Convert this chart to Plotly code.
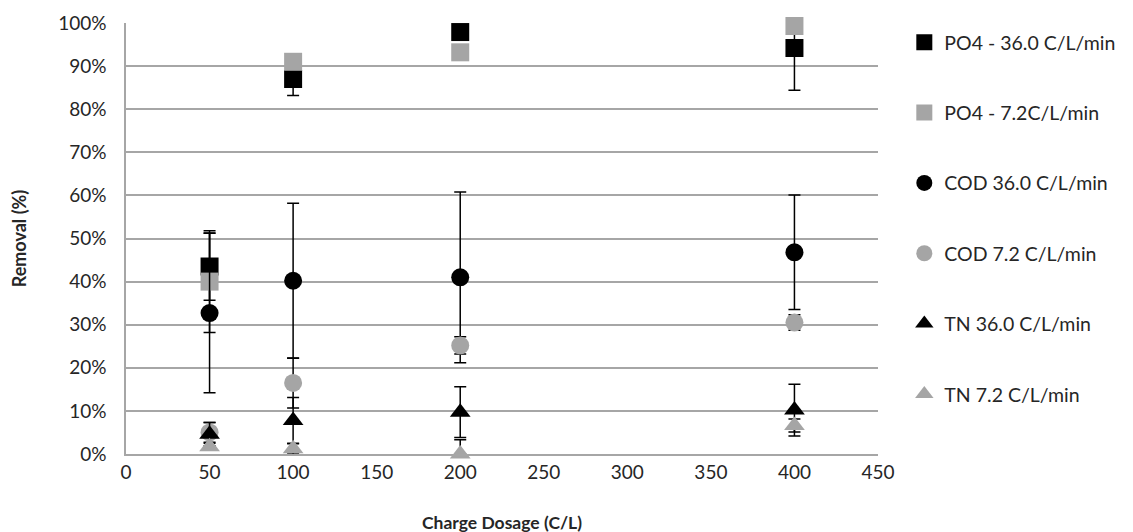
import plotly.graph_objects as go

dosage = [50, 100, 200, 400]

po4_36 = [43.5, 87.0, 97.9, 94.2]
po4_36_err_plus = [7.8, 3.8, 0.0, 5.8]
po4_36_err_minus = [7.8, 3.8, 0.0, 9.8]

po4_72 = [40.0, 91.0, 93.2, 99.3]
po4_72_err_plus = [11.8, 1.0, 1.0, 0.5]
po4_72_err_minus = [11.8, 1.0, 1.0, 0.5]

cod_36 = [32.7, 40.2, 41.0, 46.8]
cod_36_err = [18.5, 18.0, 19.8, 13.3]

cod_72 = [5.0, 16.5, 25.2, 30.5]
cod_72_err = [2.3, 5.8, 2.0, 1.8]

tn_36 = [4.6, 7.8, 9.7, 10.2]
tn_36_err = [2.7, 5.3, 5.9, 6.0]

tn_72 = [1.7, 1.2, 0.0, 6.6]
tn_72_err_plus = [0.8, 1.2, 3.3, 1.5]
tn_72_err_minus = [0.8, 1.2, 0.0, 1.5]

x_ticks = [0, 50, 100, 150, 200, 250, 300, 350, 400, 450]
y_ticks = [0, 10, 20, 30, 40, 50, 60, 70, 80, 90, 100]
y_tick_labels = ["0%", "10%", "20%", "30%", "40%", "50%", "60%", "70%", "80%", "90%", "100%"]

names = ["PO4 - 36.0 C/L/min", "PO4 - 7.2C/L/min", "COD 36.0 C/L/min",
         "COD 7.2 C/L/min", "TN 36.0 C/L/min", "TN 7.2 C/L/min"]

BLACK = "#000000"
GRAY = "#a5a5a5"

series = [
    (names[0], po4_36, po4_36_err_plus, po4_36_err_minus, "square", BLACK),
    (names[1], po4_72, po4_72_err_plus, po4_72_err_minus, "square", GRAY),
    (names[2], cod_36, cod_36_err, cod_36_err, "circle", BLACK),
    (names[3], cod_72, cod_72_err, cod_72_err, "circle", GRAY),
    (names[4], tn_36, tn_36_err, tn_36_err, "triangle-up", BLACK),
    (names[5], tn_72, tn_72_err_plus, tn_72_err_minus, "triangle-up", GRAY),
]

fig = go.Figure()
for i, (nm, ys, ep, em, sym, col) in enumerate(series):
    fig.add_trace(go.Scatter(
        x=dosage, y=ys, name=nm, mode="markers",
        legendgroup=f"g{i}",
        cliponaxis=False,
        marker=dict(symbol=sym, size=18, color=col, line=dict(width=0)),
        error_y=dict(type="data", symmetric=False, array=ep, arrayminus=em,
                     color="#000000", thickness=1.5, width=6),
    ))

FONT = "Lato, 'Open Sans', sans-serif"

fig.update_layout(
    width=1133, height=532,
    margin=dict(l=118, r=263, t=15, b=86),
    paper_bgcolor="white", plot_bgcolor="white",
    font=dict(family=FONT, size=18, color="#262626"),
    showlegend=True,
    legend=dict(
        x=1.035, xanchor="left", y=1.0, yanchor="top",
        font=dict(size=19.5, family=FONT, color="#262626"),
        tracegroupgap=42, itemsizing="trace", itemwidth=30,
        bgcolor="rgba(0,0,0,0)",
    ),
    xaxis=dict(
        range=[0, 450], tickmode="array", tickvals=x_ticks,
        showgrid=False, zeroline=False, automargin=False,
        showline=True, linecolor="#a6a6a6", linewidth=1.5,
        ticks="", tickfont=dict(size=19),
        title=dict(text="<b>Charge Dosage (C/L)</b>", font=dict(size=17.5), standoff=35),
    ),
    yaxis=dict(
        range=[0, 100], tickmode="array", tickvals=y_ticks, ticktext=y_tick_labels,
        showgrid=True, gridcolor="#a6a6a6", gridwidth=1.5,
        zeroline=False, automargin=False,
        showline=True, linecolor="#a6a6a6", linewidth=1.5,
        ticks="", tickfont=dict(size=19), ticklabelstandoff=14,
        title=dict(text="<b>Removal (%)</b>", font=dict(size=18), standoff=30),
    ),
)

fig.write_html("out.html")
